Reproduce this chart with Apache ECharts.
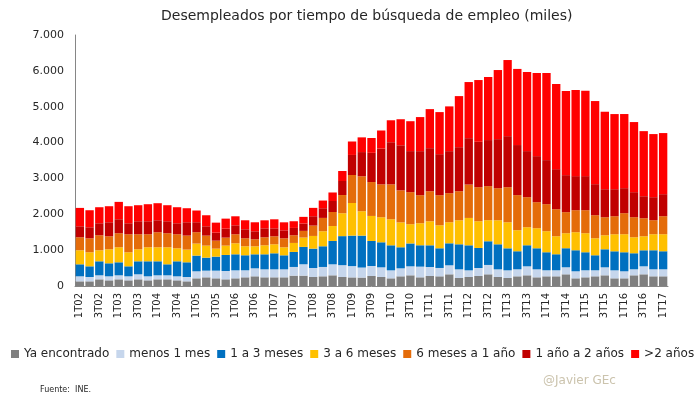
<!DOCTYPE html>
<html>
<head>
<meta charset="utf-8">
<script src="https://cdn.jsdelivr.net/npm/echarts@6/dist/echarts.min.js"></script>
<style>
  html, body { margin: 0; padding: 0; background: #fff; }
  #chart { width: 700px; height: 397px; }
</style>
</head>
<body>
<div id="chart"></div>
<script>
// trimestres 1T02 .. 1T17
var trimestres = ['1T02','2T02','3T02','4T02','1T03','2T03','3T03','4T03','1T04','2T04','3T04','4T04',
  '1T05','2T05','3T05','4T05','1T06','2T06','3T06','4T06','1T07','2T07','3T07','4T07',
  '1T08','2T08','3T08','4T08','1T09','2T09','3T09','4T09','1T10','2T10','3T10','4T10',
  '1T11','2T11','3T11','4T11','1T12','2T12','3T12','4T12','1T13','2T13','3T13','4T13',
  '1T14','2T14','3T14','4T14','1T15','2T15','3T15','4T15','1T16','2T16','3T16','4T16','1T17'];

var yaEncontrado = [130,130,186,158,186,158,186,158,186,186,158,130,214,242,214,186,214,242,270,242,242,242,289,289,
  251,270,298,251,240,235,279,251,214,270,298,242,279,270,326,223,251,279,326,251,223,270,298,242,
  270,270,326,214,242,270,298,214,214,298,326,270,270];
var menos1Mes = [140,121,112,112,112,112,140,112,112,112,112,121,196,186,214,233,223,196,223,223,223,223,242,317,
  251,261,307,330,315,280,279,270,223,223,251,298,251,233,251,242,186,223,261,214,214,196,251,223,
  168,168,196,196,196,168,223,223,196,168,223,196,196];
var de1a3 = [335,298,391,363,363,279,363,419,391,307,419,410,438,363,391,447,447,419,391,419,447,391,419,484,
  540,577,652,810,850,890,698,698,698,587,638,596,605,549,614,698,698,559,661,698,614,503,587,587,
  503,447,531,587,503,419,503,531,531,447,447,531,503];
var de3a6 = [391,391,307,391,419,391,335,391,391,475,363,354,335,335,223,260,307,251,223,251,251,223,251,261,
  354,419,415,638,910,680,698,698,726,694,536,614,670,642,587,670,763,745,587,670,726,587,503,559,
  587,503,419,503,531,475,391,475,503,447,391,447,475];
var de6a12 = [363,391,419,363,391,503,419,363,419,391,391,391,317,279,223,223,251,223,196,223,223,251,214,186,
  289,372,391,508,780,975,945,917,973,894,894,782,838,838,810,810,931,950,950,894,978,978,838,726,
  754,754,587,614,642,642,503,503,587,559,503,391,503];
var de1a2 = [307,307,335,391,391,307,363,363,335,335,307,372,279,261,223,251,251,251,223,251,223,223,205,205,
  261,270,307,391,560,675,815,1000,1176,1257,1145,1229,1201,1145,1173,1229,1294,1266,1285,1369,1424,1397,1285,1285,
  1229,1117,1033,950,950,866,782,754,698,698,614,642,614];
var mas2 = [512,475,447,447,484,475,447,475,475,447,447,391,326,307,279,279,251,251,251,223,251,223,186,186,
  233,214,238,279,375,410,414,503,612,726,834,950,1089,1173,1248,1424,1565,1722,1758,1927,2123,2123,2206,2318,
  2430,2374,2346,2402,2380,2318,2160,2095,2067,1955,1815,1760,1704];

var nombres = ['Ya encontrado','menos 1 mes','1 a 3 meses','3 a 6 meses','6 meses a 1 año','1 año a 2 años','>2 años'];
var colores = ['#7f7f7f','#c6d6ec','#0070c0','#ffc000','#e46c0a','#c00000','#ff0000'];
var valores = [yaEncontrado, menos1Mes, de1a3, de3a6, de6a12, de1a2, mas2];

var fuente = 'DejaVu Sans';
var myChart = echarts.init(document.getElementById('chart'));

var series = valores.map(function (v, i) {
  return {
    name: nombres[i],
    type: 'bar',
    stack: 'total',
    barCategoryGap: '14%',
    itemStyle: { color: colores[i] },
    data: v
  };
});

option = {
  animation: false,
  textStyle: { fontFamily: fuente },
  title: [{
    text: 'Desempleados por tiempo de búsqueda de empleo (miles)',
    left: 156,
    top: 4,
    textStyle: { fontFamily: fuente, fontSize: 14, fontWeight: 'normal', color: '#262626' }
  }, {
    text: 'Fuente:  INE.',
    left: 35,
    top: 381,
    textStyle: { fontFamily: fuente, fontSize: 8, fontWeight: 'normal', color: '#262626' }
  }, {
    text: '@Javier GEc',
    left: 538,
    top: 370,
    textStyle: { fontFamily: fuente, fontSize: 12, fontWeight: 'normal', color: '#cbc3ad' }
  }],
  legend: {
    data: nombres,
    left: 6,
    top: 343,
    width: 694,
    itemWidth: 8,
    itemHeight: 8,
    itemGap: 7,
    icon: 'rect',
    textStyle: { fontFamily: fuente, fontSize: 12, color: '#262626' }
  },
  grid: { left: 75, right: 32, top: 35, bottom: 111 },
  xAxis: {
    type: 'category',
    data: trimestres,
    axisLine: { lineStyle: { color: '#868686' } },
    axisTick: { show: false },
    axisLabel: { interval: 1, rotate: 90, fontSize: 10, color: '#262626', margin: 7 }
  },
  yAxis: {
    type: 'value',
    min: 0,
    max: 7000,
    interval: 1000,
    axisLine: { show: true, lineStyle: { color: '#868686' } },
    axisTick: { show: false },
    splitLine: { show: false },
    axisLabel: {
      fontSize: 11,
      color: '#262626',
      margin: 11,
      formatter: function (v) { return v === 0 ? '0' : (v / 1000) + '.000'; }
    }
  },
  series: series
};
myChart.setOption(option);
</script>
</body>
</html>
